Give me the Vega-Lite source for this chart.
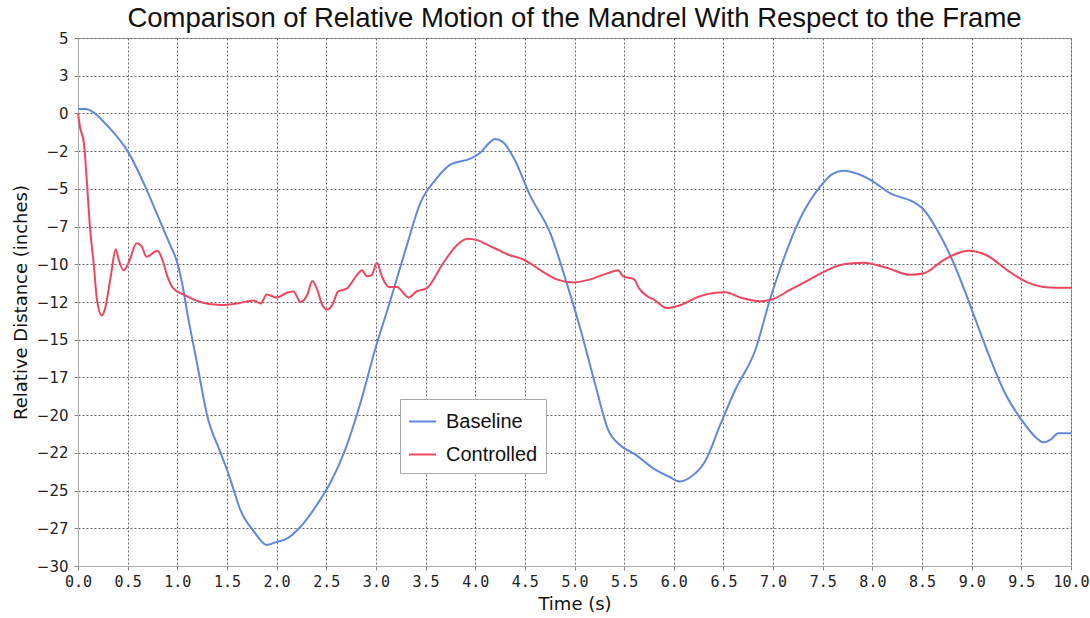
{
  "$schema": "https://vega.github.io/schema/vega-lite/v6.json",
  "autosize": "none",
  "width": 993,
  "height": 528,
  "padding": {"left": 78, "top": 38, "right": 19, "bottom": 52},
  "background": "white",
  "title": {"text": "Comparison of Relative Motion of the Mandrel With Respect to the Frame", "font": "Liberation Sans", "fontSize": 27.5, "fontWeight": "normal", "color": "#111", "anchor": "middle", "offset": -1},
  "config": {
    "view": {"stroke": "#aaaaaa", "strokeWidth": 1},
    "axis": {"grid": true, "gridColor": "#666", "gridDash": [2, 2], "gridWidth": 1, "domainColor": "#aaaaaa", "tickColor": "#888", "tickSize": 4, "labelColor": "#222", "titleColor": "#111", "titleFontWeight": "normal"}
  },
  "data": {"values": [
    {"t":0.00,"v":0.3,"s":"Baseline"},{"t":0.08,"v":0.3,"s":"Baseline"},{"t":0.16,"v":0.05,"s":"Baseline"},{"t":0.25,"v":-0.5,"s":"Baseline"},{"t":0.35,"v":-1.2,"s":"Baseline"},{"t":0.5,"v":-2.5,"s":"Baseline"},{"t":0.66,"v":-4.6,"s":"Baseline"},{"t":0.83,"v":-7.2,"s":"Baseline"},{"t":0.92,"v":-8.6,"s":"Baseline"},{"t":1.0,"v":-9.9,"s":"Baseline"},{"t":1.05,"v":-11.3,"s":"Baseline"},{"t":1.1,"v":-13.2,"s":"Baseline"},{"t":1.2,"v":-16.6,"s":"Baseline"},{"t":1.3,"v":-20.0,"s":"Baseline"},{"t":1.43,"v":-22.4,"s":"Baseline"},{"t":1.5,"v":-23.6,"s":"Baseline"},{"t":1.57,"v":-25.0,"s":"Baseline"},{"t":1.63,"v":-26.2,"s":"Baseline"},{"t":1.77,"v":-27.7,"s":"Baseline"},{"t":1.9,"v":-28.6,"s":"Baseline"},{"t":2.0,"v":-28.4,"s":"Baseline"},{"t":2.1,"v":-28.2,"s":"Baseline"},{"t":2.24,"v":-27.4,"s":"Baseline"},{"t":2.44,"v":-25.6,"s":"Baseline"},{"t":2.54,"v":-24.5,"s":"Baseline"},{"t":2.69,"v":-22.3,"s":"Baseline"},{"t":2.84,"v":-19.3,"s":"Baseline"},{"t":2.99,"v":-15.7,"s":"Baseline"},{"t":3.15,"v":-12.3,"s":"Baseline"},{"t":3.3,"v":-9.0,"s":"Baseline"},{"t":3.45,"v":-5.9,"s":"Baseline"},{"t":3.6,"v":-4.4,"s":"Baseline"},{"t":3.75,"v":-3.4,"s":"Baseline"},{"t":3.95,"v":-3.0,"s":"Baseline"},{"t":4.05,"v":-2.6,"s":"Baseline"},{"t":4.15,"v":-1.9,"s":"Baseline"},{"t":4.2,"v":-1.7,"s":"Baseline"},{"t":4.28,"v":-1.9,"s":"Baseline"},{"t":4.4,"v":-3.1,"s":"Baseline"},{"t":4.55,"v":-5.4,"s":"Baseline"},{"t":4.76,"v":-8.0,"s":"Baseline"},{"t":4.91,"v":-11.0,"s":"Baseline"},{"t":5.06,"v":-14.3,"s":"Baseline"},{"t":5.21,"v":-18.0,"s":"Baseline"},{"t":5.34,"v":-21.0,"s":"Baseline"},{"t":5.46,"v":-22.0,"s":"Baseline"},{"t":5.61,"v":-22.6,"s":"Baseline"},{"t":5.81,"v":-23.6,"s":"Baseline"},{"t":5.96,"v":-24.1,"s":"Baseline"},{"t":6.06,"v":-24.4,"s":"Baseline"},{"t":6.17,"v":-24.1,"s":"Baseline"},{"t":6.32,"v":-23.0,"s":"Baseline"},{"t":6.47,"v":-20.6,"s":"Baseline"},{"t":6.62,"v":-18.3,"s":"Baseline"},{"t":6.82,"v":-15.7,"s":"Baseline"},{"t":6.97,"v":-12.3,"s":"Baseline"},{"t":7.12,"v":-9.4,"s":"Baseline"},{"t":7.27,"v":-7.0,"s":"Baseline"},{"t":7.48,"v":-4.8,"s":"Baseline"},{"t":7.6,"v":-4.0,"s":"Baseline"},{"t":7.71,"v":-3.8,"s":"Baseline"},{"t":7.85,"v":-4.0,"s":"Baseline"},{"t":7.98,"v":-4.4,"s":"Baseline"},{"t":8.18,"v":-5.3,"s":"Baseline"},{"t":8.42,"v":-5.9,"s":"Baseline"},{"t":8.52,"v":-6.4,"s":"Baseline"},{"t":8.65,"v":-7.7,"s":"Baseline"},{"t":8.79,"v":-9.5,"s":"Baseline"},{"t":8.95,"v":-12.1,"s":"Baseline"},{"t":9.04,"v":-13.7,"s":"Baseline"},{"t":9.19,"v":-16.3,"s":"Baseline"},{"t":9.34,"v":-18.6,"s":"Baseline"},{"t":9.5,"v":-20.3,"s":"Baseline"},{"t":9.65,"v":-21.5,"s":"Baseline"},{"t":9.72,"v":-21.8,"s":"Baseline"},{"t":9.8,"v":-21.6,"s":"Baseline"},{"t":9.87,"v":-21.2,"s":"Baseline"},{"t":9.95,"v":-21.2,"s":"Baseline"},{"t":10.0,"v":-21.2,"s":"Baseline"},
    {"t":0.0,"v":0.0,"s":"Controlled"},{"t":0.02,"v":-0.9,"s":"Controlled"},{"t":0.06,"v":-2.0,"s":"Controlled"},{"t":0.09,"v":-4.6,"s":"Controlled"},{"t":0.12,"v":-7.5,"s":"Controlled"},{"t":0.16,"v":-10.1,"s":"Controlled"},{"t":0.19,"v":-12.3,"s":"Controlled"},{"t":0.24,"v":-13.4,"s":"Controlled"},{"t":0.27,"v":-13.0,"s":"Controlled"},{"t":0.33,"v":-10.8,"s":"Controlled"},{"t":0.38,"v":-9.0,"s":"Controlled"},{"t":0.41,"v":-9.7,"s":"Controlled"},{"t":0.46,"v":-10.4,"s":"Controlled"},{"t":0.51,"v":-9.9,"s":"Controlled"},{"t":0.59,"v":-8.6,"s":"Controlled"},{"t":0.64,"v":-8.8,"s":"Controlled"},{"t":0.69,"v":-9.5,"s":"Controlled"},{"t":0.8,"v":-9.1,"s":"Controlled"},{"t":0.85,"v":-9.7,"s":"Controlled"},{"t":0.9,"v":-10.8,"s":"Controlled"},{"t":0.96,"v":-11.6,"s":"Controlled"},{"t":1.06,"v":-12.0,"s":"Controlled"},{"t":1.23,"v":-12.5,"s":"Controlled"},{"t":1.43,"v":-12.7,"s":"Controlled"},{"t":1.6,"v":-12.6,"s":"Controlled"},{"t":1.77,"v":-12.4,"s":"Controlled"},{"t":1.84,"v":-12.6,"s":"Controlled"},{"t":1.9,"v":-12.0,"s":"Controlled"},{"t":2.0,"v":-12.2,"s":"Controlled"},{"t":2.1,"v":-11.9,"s":"Controlled"},{"t":2.17,"v":-11.8,"s":"Controlled"},{"t":2.24,"v":-12.5,"s":"Controlled"},{"t":2.31,"v":-12.0,"s":"Controlled"},{"t":2.36,"v":-11.1,"s":"Controlled"},{"t":2.41,"v":-11.7,"s":"Controlled"},{"t":2.46,"v":-12.7,"s":"Controlled"},{"t":2.51,"v":-13.0,"s":"Controlled"},{"t":2.56,"v":-12.7,"s":"Controlled"},{"t":2.62,"v":-11.8,"s":"Controlled"},{"t":2.71,"v":-11.6,"s":"Controlled"},{"t":2.81,"v":-10.7,"s":"Controlled"},{"t":2.86,"v":-10.4,"s":"Controlled"},{"t":2.91,"v":-10.8,"s":"Controlled"},{"t":2.96,"v":-10.7,"s":"Controlled"},{"t":3.01,"v":-9.9,"s":"Controlled"},{"t":3.06,"v":-10.8,"s":"Controlled"},{"t":3.13,"v":-11.5,"s":"Controlled"},{"t":3.21,"v":-11.5,"s":"Controlled"},{"t":3.33,"v":-12.2,"s":"Controlled"},{"t":3.41,"v":-11.8,"s":"Controlled"},{"t":3.51,"v":-11.6,"s":"Controlled"},{"t":3.68,"v":-9.9,"s":"Controlled"},{"t":3.82,"v":-8.7,"s":"Controlled"},{"t":3.92,"v":-8.3,"s":"Controlled"},{"t":4.02,"v":-8.4,"s":"Controlled"},{"t":4.15,"v":-8.8,"s":"Controlled"},{"t":4.25,"v":-9.1,"s":"Controlled"},{"t":4.29,"v":-9.25,"s":"Controlled"},{"t":4.49,"v":-9.7,"s":"Controlled"},{"t":4.66,"v":-10.4,"s":"Controlled"},{"t":4.82,"v":-11.0,"s":"Controlled"},{"t":4.99,"v":-11.2,"s":"Controlled"},{"t":5.16,"v":-11.0,"s":"Controlled"},{"t":5.33,"v":-10.6,"s":"Controlled"},{"t":5.44,"v":-10.4,"s":"Controlled"},{"t":5.49,"v":-10.8,"s":"Controlled"},{"t":5.6,"v":-11.0,"s":"Controlled"},{"t":5.65,"v":-11.6,"s":"Controlled"},{"t":5.73,"v":-12.1,"s":"Controlled"},{"t":5.8,"v":-12.35,"s":"Controlled"},{"t":5.93,"v":-12.9,"s":"Controlled"},{"t":6.07,"v":-12.7,"s":"Controlled"},{"t":6.23,"v":-12.2,"s":"Controlled"},{"t":6.4,"v":-11.9,"s":"Controlled"},{"t":6.52,"v":-11.85,"s":"Controlled"},{"t":6.67,"v":-12.2,"s":"Controlled"},{"t":6.87,"v":-12.45,"s":"Controlled"},{"t":7.0,"v":-12.3,"s":"Controlled"},{"t":7.17,"v":-11.7,"s":"Controlled"},{"t":7.37,"v":-11.0,"s":"Controlled"},{"t":7.48,"v":-10.6,"s":"Controlled"},{"t":7.71,"v":-10.0,"s":"Controlled"},{"t":7.91,"v":-9.9,"s":"Controlled"},{"t":8.15,"v":-10.25,"s":"Controlled"},{"t":8.38,"v":-10.7,"s":"Controlled"},{"t":8.52,"v":-10.6,"s":"Controlled"},{"t":8.72,"v":-9.7,"s":"Controlled"},{"t":8.97,"v":-9.1,"s":"Controlled"},{"t":9.15,"v":-9.4,"s":"Controlled"},{"t":9.36,"v":-10.4,"s":"Controlled"},{"t":9.56,"v":-11.2,"s":"Controlled"},{"t":9.72,"v":-11.5,"s":"Controlled"},{"t":9.85,"v":-11.55,"s":"Controlled"},{"t":10.0,"v":-11.55,"s":"Controlled"}
  ]},
  "mark": {"type": "line", "interpolate": "monotone", "strokeWidth": 2},
  "encoding": {
    "x": {"field": "t", "type": "quantitative", "scale": {"domain": [0, 10], "nice": false}, "axis": {"title": "Time (s)", "titleFont": "DejaVu Sans", "titleFontSize": 18, "titlePadding": 6, "values": [0,0.5,1,1.5,2,2.5,3,3.5,4,4.5,5,5.5,6,6.5,7,7.5,8,8.5,9,9.5,10], "format": ".1f", "labelFont": "DejaVu Sans Mono", "labelFontSize": 15, "labelPadding": 4, "labelFlush": false}},
    "y": {"field": "v", "type": "quantitative", "scale": {"domain": [-30, 5], "nice": false, "zero": false}, "axis": {"title": "Relative Distance (inches)", "titleFont": "DejaVu Sans", "titleFontSize": 18, "titlePadding": 6, "values": [-30,-27.5,-25,-22.5,-20,-17.5,-15,-12.5,-10,-7.5,-5,-2.5,0,2.5,5], "labelExpr": "format(round(datum.value), 'd')", "labelFont": "DejaVu Sans", "labelFontSize": 15, "labelPadding": 6, "labelFlush": false}},
    "color": {"field": "s", "type": "nominal", "scale": {"domain": ["Baseline", "Controlled"], "range": ["#6288dc", "#ef4660"]}, "legend": {"title": null, "orient": "none", "legendX": 322, "legendY": 361, "direction": "vertical", "symbolType": "stroke", "symbolSize": 729, "symbolStrokeWidth": 2, "labelFont": "Liberation Sans", "labelFontSize": 20, "labelColor": "#111", "rowPadding": 8, "padding": 8, "strokeColor": "#aaaaaa", "fillColor": "white", "labelOffset": 9}}
  }
}
